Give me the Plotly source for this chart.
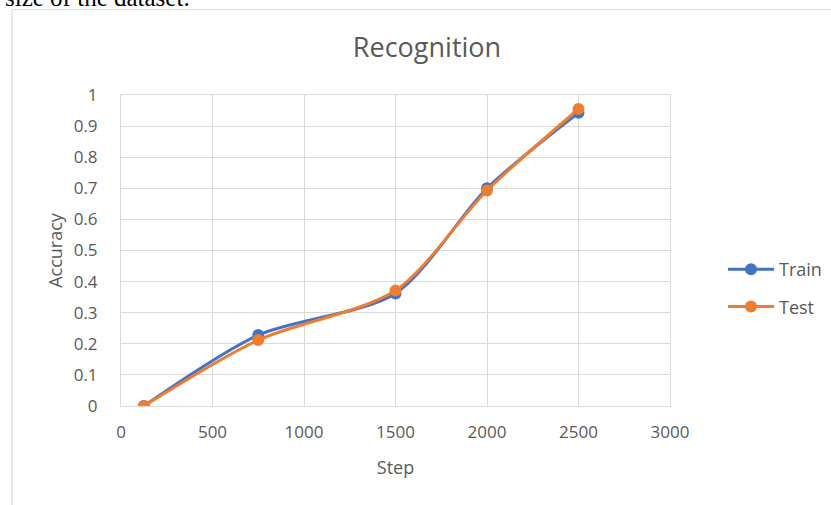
import plotly.graph_objects as go

steps = [125, 750, 1500, 2000, 2500]
train = [0.0, 0.228, 0.362, 0.700, 0.943]
test = [0.0, 0.212, 0.371, 0.693, 0.955]
x_ticks = [0, 500, 1000, 1500, 2000, 2500, 3000]
y_ticks = [0, 0.1, 0.2, 0.3, 0.4, 0.5, 0.6, 0.7, 0.8, 0.9, 1]

W, H = 831, 505
L, R, T, B = 121, 670, 95, 406
pw, ph = R - L, B - T

def px_x(p):
    return (p - L) / pw

def px_y(p):
    return (B - p) / ph

txt = "#595959"
font = "Open Sans, Lato, sans-serif"

fig = go.Figure()
fig.add_trace(go.Scatter(
    x=steps, y=train, name="Train", mode="lines+markers",
    line=dict(color="#4472C4", width=3, shape="spline", smoothing=0.8),
    marker=dict(color="#4472C4", size=12), legendgroup="a"))
fig.add_trace(go.Scatter(
    x=steps, y=test, name="Test", mode="lines+markers",
    line=dict(color="#ED7D31", width=3, shape="spline", smoothing=0.8),
    marker=dict(color="#ED7D31", size=12), legendgroup="b"))

fig.update_layout(
    width=W, height=H,
    margin=dict(l=L, r=W - R, t=T, b=H - B, pad=0, autoexpand=False),
    paper_bgcolor="white", plot_bgcolor="white",
    font=dict(family=font, color=txt, size=17),
    title=dict(text="Recognition", x=px_x(427), xref="paper", xanchor="center",
               y=1 - 48 / H, yanchor="middle", yref="container",
               font=dict(size=27, color=txt)),
    legend=dict(x=px_x(723), y=px_y(251), xanchor="left", yanchor="top",
                font=dict(size=18, color=txt), tracegroupgap=11,
                itemwidth=46, bgcolor="rgba(0,0,0,0)"),
    xaxis=dict(range=[0, 3000], tickvals=x_ticks, showgrid=True,
               gridcolor="#d9d9d9", gridwidth=1, showline=True, mirror=True,
               linecolor="#d9d9d9", linewidth=1, zeroline=False,
               ticks="", ticklabelstandoff=11, tickfont=dict(size=17, color=txt),
               title=dict(text="Step", font=dict(size=18, color=txt), standoff=18)),
    yaxis=dict(range=[0, 1], tickvals=y_ticks, showgrid=True,
               gridcolor="#d9d9d9", gridwidth=1, showline=True, mirror=True,
               linecolor="#d9d9d9", linewidth=1, zeroline=False,
               ticks="", ticklabelstandoff=19, tickfont=dict(size=17, color=txt),
               title=dict(text="Accuracy", font=dict(size=18, color=txt), standoff=6)),
    showlegend=True,
)

# outer frame of the embedded chart
fig.add_shape(type="rect", xref="paper", yref="paper",
              x0=px_x(12), x1=px_x(W + 20), y0=px_y(H + 20), y1=px_y(9.5),
              line=dict(color="#d9d9d9", width=1.2), fillcolor="rgba(0,0,0,0)",
              layer="below")

# clipped document text above the chart
fig.add_annotation(text="size of the dataset.", xref="paper", yref="paper",
                   x=px_x(3), y=px_y(13), xanchor="left", yanchor="bottom",
                   showarrow=False,
                   font=dict(family="Liberation Serif, serif", size=25, color="black"))

fig.write_html("out.html", config={"displayModeBar": False},
               post_script="document.body.style.margin='0';document.body.style.overflow='hidden';")
